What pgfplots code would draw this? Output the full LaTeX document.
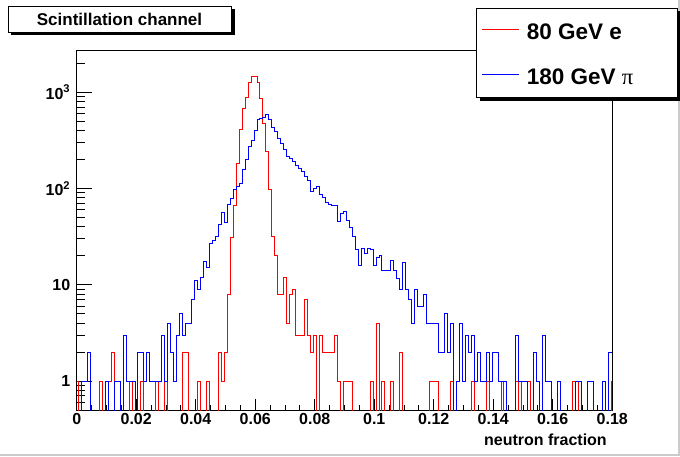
\documentclass[border=0pt]{standalone}
\usepackage{pgfplots}
\pgfplotsset{compat=1.18}
\usepackage{pgfplotstable}
\usepackage{fontspec}
\setmainfont{Liberation Sans}
\newfontfamily\symfont{Liberation Serif}

\pgfplotstableread{
x r b
0 1 0.01
0.0006 0.01 0.01
0.0016 0.01 1
0.0026 0.01 1
0.0036 0.01 2
0.0046 0.01 0.01
0.0056 0.01 0.01
0.0066 0.01 0.01
0.0076 1 0.01
0.0086 0.01 0.01
0.0096 0.01 1
0.0106 1 0.01
0.0116 2 0.01
0.0126 0.01 1
0.0136 0.01 1
0.0146 0.01 0.01
0.0156 0.01 3
0.0166 0.01 1
0.0176 1 1
0.0186 0.01 1
0.0196 0.01 0.01
0.0206 0.01 2
0.0216 1 2
0.0226 0.01 1
0.0236 0.01 2
0.0246 0.01 1
0.0256 0.01 1
0.0266 1 1
0.0276 0.01 1
0.0286 0.01 3
0.0296 1 1
0.0306 0.01 4
0.0316 0.01 2
0.0326 0.01 1
0.0336 0.01 3
0.0346 0.01 5
0.0356 2 3
0.0366 2 4
0.0376 0.01 4
0.0386 0.01 7
0.0396 0.01 11
0.0406 1 9
0.0416 0.01 12
0.0426 0.01 17.5
0.0436 1 15
0.0446 0.01 27
0.0456 0.01 29
0.0466 0.01 32
0.0476 2 42
0.0486 1 56
0.0496 2 44.5
0.0506 8 68
0.0516 31 79
0.0526 66 98
0.0536 183 105
0.0546 413 112
0.0556 680 159
0.0566 888 201
0.0576 1257 276
0.0586 1470 317
0.0596 1470 400
0.0606 1270 517
0.0616 870 536
0.0626 475 550
0.0636 242 580
0.0646 97 517
0.0656 32 432
0.0666 20 388
0.0676 8 330
0.0686 8 290
0.0696 12 256
0.0706 4 214
0.0716 8 206
0.0726 9 190
0.0736 3 175
0.0746 3 162
0.0756 3 150
0.0766 7 132
0.0776 3 122
0.0786 2 93
0.0796 3 100
0.0806 0.01 105
0.0816 3 87
0.0826 2 80
0.0836 2 72
0.0846 2 68
0.0856 2 66
0.0866 3 66
0.0876 1 45
0.0886 0.01 55
0.0896 1 57
0.0906 1 46
0.0916 1 39
0.0926 0.01 32
0.0936 0.01 23
0.0946 0.01 16
0.0956 0.01 24
0.0966 0.01 21
0.0976 0.01 24
0.0986 1 23
0.0996 0.01 16
0.1006 4 19
0.1016 0.01 20
0.1026 1 14
0.1036 0.01 14
0.1046 0.01 14
0.1056 1 18
0.1066 0.01 14
0.1076 0.01 11.5
0.1086 2 9
0.1096 0.01 17
0.1106 0.01 9
0.1116 0.01 7
0.1126 0.01 4
0.1136 0.01 9
0.1146 0.01 6
0.1156 0.01 6
0.1166 0.01 8
0.1176 0.01 4
0.1186 1 4
0.1196 1 4
0.1206 1 4
0.1216 0.01 2
0.1226 0.01 2
0.1236 0.01 5
0.1246 0.01 2
0.1256 1 4
0.1266 0.01 0.01
0.1276 0.01 1
0.1286 0.01 4
0.1296 0.01 1
0.1306 0.01 3
0.1316 0.01 2
0.1326 1 3
0.1336 0.01 1
0.1346 0.01 2
0.1356 0.01 1
0.1366 0.01 1
0.1376 1 2
0.1386 0.01 1
0.1396 0.01 2
0.1406 0.01 2
0.1416 0.01 1
0.1426 1 1
0.1436 0.01 1
0.1446 0.01 0.01
0.1456 0.01 0.01
0.1466 0.01 0.01
0.1476 1 3
0.1486 0.01 1
0.1496 1 1
0.1506 1 1
0.1516 1 0.01
0.1526 0.01 0.01
0.1536 0.01 2
0.1546 0.01 1
0.1556 0.01 0.01
0.1566 0.01 3
0.1576 0.01 1
0.1586 0.01 1
0.1596 0.01 0.01
0.1606 0.01 0.01
0.1616 0.01 1
0.1626 0.01 0.01
0.1636 0.01 0.01
0.1646 0.01 0.01
0.1656 0.01 0.01
0.1666 1 0.01
0.1676 1 1
0.1686 0.01 1
0.1696 0.01 0.01
0.1706 0.01 0.01
0.1716 0.01 1
0.1726 0.01 1
0.1736 0.01 0.01
0.1746 0.01 0.01
0.1756 0.01 0.01
0.1766 0.01 1
0.1776 0.01 0.01
0.1786 0.01 2
0.1796 1 2
0.18 1 2
}\histdata

\begin{document}
\begin{tikzpicture}[x=1pt,y=1pt]
\useasboundingbox (0,0) rectangle (680,456);
\fill[white] (0,0) rectangle (680,456);
\draw[gray!40, line width=2pt] (0,1) -- (679,1) -- (679,456);

\begin{axis}[at={(76.7pt,46pt)}, anchor=south west, scale only axis,
  width=535.6pt, height=359.3pt,
  xmin=0, xmax=0.18, ymode=log, ymin=0.5, ymax=2700,
  axis line style={black, line width=0.9pt},
  tick style={black, line width=0.9pt},
  tick align=inside, tick pos=left,
  ticklabel style={font=\fontsize{16}{19}\selectfont\bfseries},
  ytick=\empty, minor ytick={},
  xtick={0,0.02,0.04,0.06,0.08,0.1,0.12,0.14,0.16,0.18},
  xticklabels={0,0.02,0.04,0.06,0.08,0.1,0.12,0.14,0.16,0.18},
  minor xtick={0.005,0.01,0.015,0.025,0.03,0.035,0.045,0.05,0.055,0.065,0.07,0.075,0.085,0.09,0.095,0.105,0.11,0.115,0.125,0.13,0.135,0.145,0.15,0.155,0.165,0.17,0.175},
  major tick length=10.7pt, minor tick length=5pt,
  xlabel={neutron fraction},
  xlabel style={at={(rel axis cs:1,0)}, anchor=east, yshift=-30pt, xshift=-2pt, font=\fontsize{16}{19}\selectfont\bfseries}]
\end{axis}

\begin{axis}[at={(76.7pt,46pt)}, anchor=south west, scale only axis,
  width=535.6pt, height=359.3pt,
  xmin=0, xmax=0.18, ymode=log, ymin=0.5, ymax=2700,
  axis line style={black, line width=0.9pt},
  tick style={black, line width=0.9pt},
  tick align=inside, tick pos=left,
  ticklabel style={font=\fontsize{16}{19}\selectfont\bfseries},
  xtick=\empty, minor xtick={},
  ytick={1,10,100,1000},
  yticklabels={1,10,10\textsuperscript{2},10\textsuperscript{3}},
  minor ytick={0.6,0.7,0.8,0.9,2,3,4,5,6,7,8,9,20,30,40,50,60,70,80,90,200,300,400,500,600,700,800,900,2000},
  major tick length=15.7pt, minor tick length=8pt,
  yticklabel style={xshift=-3pt}]
\addplot[const plot, red, line width=1pt] table[x=x,y=r]{\histdata};
\addplot[const plot, blue, line width=1pt] table[x=x,y=b]{\histdata};
\end{axis}

% title box
\fill[black] (11,421) rectangle (234.5,447);
\draw[black, line width=0.8pt, fill=white] (8,424) rectangle (231,450);
\node[font=\fontsize{17}{20}\selectfont\bfseries] at (119.5,437) {Scintillation channel};

% legend
\fill[black] (479.5,355) rectangle (681,445);
\draw[black, line width=0.8pt, fill=white] (476,358.7) rectangle (677.7,448);
\draw[red, line width=1pt] (482,426.7) -- (519,426.7);
\node[anchor=west, inner sep=0pt, font=\fontsize{22.5}{27}\selectfont\bfseries] at (526.7,424.3) {80 GeV e};
\draw[blue, line width=1pt] (482,381) -- (519,381);
\node[anchor=west, inner sep=0pt, font=\fontsize{22.5}{27}\selectfont\bfseries] at (526.7,379.3) {180 GeV {\symfont\mdseries π}};
\end{tikzpicture}
\end{document}
